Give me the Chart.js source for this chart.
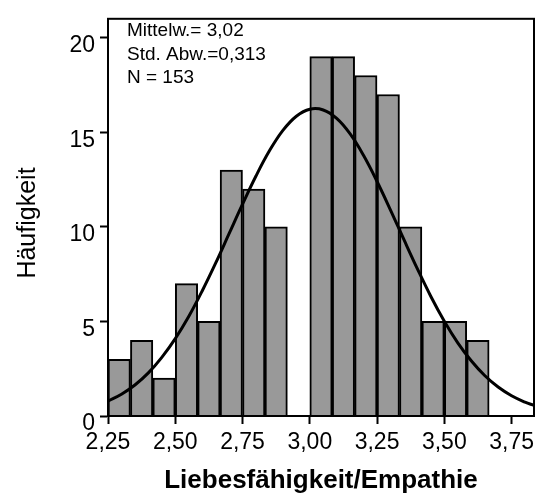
<!DOCTYPE html>
<html>
<head>
<meta charset="utf-8">
<script src="https://cdn.jsdelivr.net/npm/chart.js@4.4.1/dist/chart.umd.min.js"></script>
<style>
  body { margin: 0; background: #fff; }
  #wrap { width: 556px; height: 497px; }
</style>
</head>
<body>
<div id="wrap"><canvas id="myChart" width="556" height="497"></canvas></div>
<script>
// histogram bins (centres, width 1/12) and counts
var binCenters = [2.2917, 2.375, 2.4583, 2.5417, 2.625, 2.7083, 2.7917, 2.875,
                  2.9583, 3.0417, 3.125, 3.2083, 3.2917, 3.375, 3.4583, 3.5417, 3.625];
var counts = [3, 4, 2, 7, 5, 13, 12, 10, 0, 19, 19, 18, 17, 10, 5, 5, 4];

// normal curve
var curveX = [2.25, 2.30, 2.35, 2.40, 2.45, 2.50, 2.55, 2.60, 2.65, 2.70, 2.75, 2.80,
              2.85, 2.90, 2.95, 3.00, 3.05, 3.10, 3.15, 3.20, 3.25, 3.30, 3.35, 3.40,
              3.45, 3.50, 3.55, 3.60, 3.65, 3.70, 3.75, 3.80, 3.8333];
var curveY = [0.79, 1.15, 1.64, 2.28, 3.10, 4.09, 5.26, 6.61, 8.08, 9.64, 11.20, 12.69,
              14.02, 15.10, 15.85, 16.22, 16.18, 15.73, 14.91, 13.77, 12.40, 10.89, 9.32, 7.78,
              6.32, 5.01, 3.87, 2.92, 2.14, 1.53, 1.07, 0.73, 0.56];

var xTicks = [2.25, 2.50, 2.75, 3.00, 3.25, 3.50, 3.75];
var yTicks = [0, 5, 10, 15, 20];
var statsText = ['Mittelw.= 3,02', 'Std. Abw.=0,313', 'N = 153'];
var xTitle = 'Liebesfähigkeit/Empathie';
var yTitle = 'Häufigkeit';

var FONT = '"Liberation Sans", Arial, sans-serif';

var framePlugin = {
  id: 'frame',
  afterDatasetsDraw(chart) {
    var c = chart.ctx, a = chart.chartArea;
    c.save();
    c.strokeStyle = '#000';
    c.lineWidth = 2;
    c.strokeRect(a.left, a.top, a.right - a.left, a.bottom - a.top);
    // stats box text
    c.fillStyle = '#000';
    c.font = '19px ' + FONT;
    c.textBaseline = 'alphabetic';
    c.textAlign = 'left';
    statsText.forEach(function (t, i) {
      c.fillText(t, 127, 36 + i * 23.5);
    });
    // y title
    c.font = '25px ' + FONT;
    c.translate(35, 223);
    c.rotate(-Math.PI / 2);
    c.textAlign = 'center';
    c.fillText(yTitle, 0, 0);
    c.restore();
  }
};

var ctx = document.getElementById('myChart');

var histChart = new Chart(ctx, {
  data: {
    datasets: [{
      type: 'line',
      data: curveX.map((x, i) => ({ x: x, y: curveY[i] })),
      borderColor: '#000',
      borderWidth: 3,
      pointRadius: 0,
      tension: 0.4,
      fill: false,
      order: 1
    },
    {
      type: 'bar',
      data: binCenters.map((x, i) => ({ x: x, y: counts[i] })),
      backgroundColor: '#999999',
      borderColor: '#000',
      borderWidth: 2,
      barPercentage: 1,
      categoryPercentage: 1,
      order: 2
    }]
  },
  options: {
    responsive: false,
    animation: false,
    layout: { padding: { top: 12, right: 22, left: 0, bottom: 0 } },
    plugins: {
      legend: { display: false },
      tooltip: { enabled: false }
    },
    scales: {
      x: {
        type: 'linear',
        min: 2.25,
        max: 3.8333,
        offset: false,
        afterBuildTicks: scale => { scale.ticks = xTicks.map(v => ({ value: v })); },
        afterFit: scale => { scale.height = 81; },
        grid: { offset: false, drawOnChartArea: false, drawTicks: true, tickLength: 8, tickWidth: 2, tickColor: '#000' },
        border: { display: true, color: '#000', width: 2 },
        ticks: {
          color: '#000',
          padding: 5,
          maxRotation: 0,
          autoSkip: false,
          font: { family: FONT, size: 23 },
          callback: v => v.toFixed(2).replace('.', ',')
        },
        title: {
          display: true,
          text: xTitle,
          color: '#000',
          font: { family: FONT, size: 26, weight: 'bold' },
          padding: { top: 0, bottom: 1 }
        }
      },
      y: {
        min: 0,
        max: 21,
        afterBuildTicks: scale => { scale.ticks = yTicks.map(v => ({ value: v })); },
        afterFit: scale => { scale.width = 108; },
        grid: { drawOnChartArea: false, drawTicks: true, tickLength: 8, tickWidth: 2, tickColor: '#000' },
        border: { display: true, color: '#000', width: 2 },
        ticks: {
          color: '#000',
          padding: 5,
          labelOffset: 8,
          font: { family: FONT, size: 23 }
        }
      }
    }
  },
  plugins: [framePlugin]
});
</script>
</body>
</html>
